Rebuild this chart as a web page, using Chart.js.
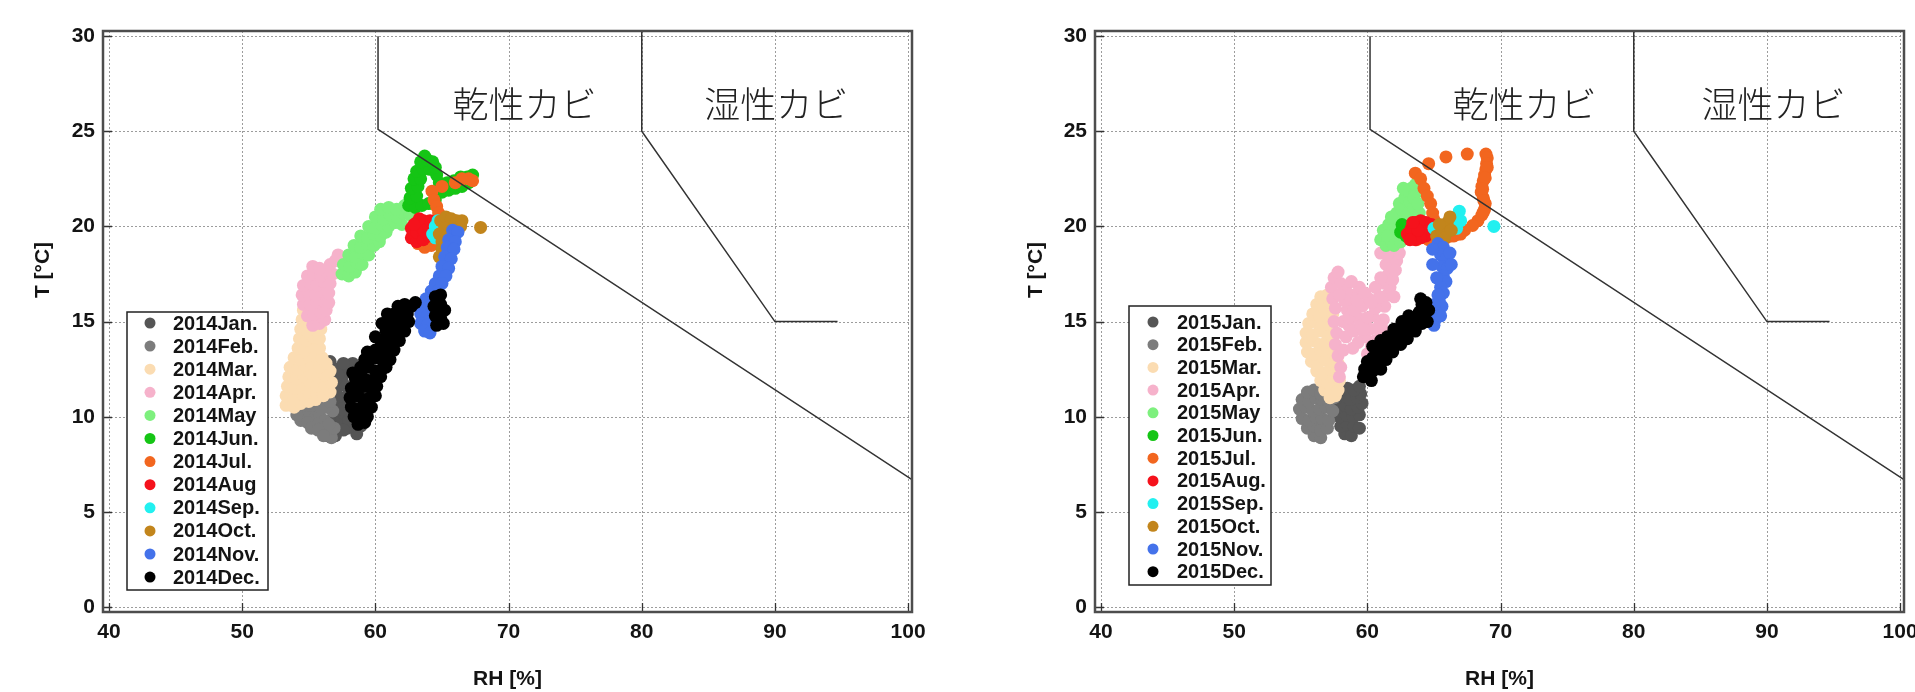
<!DOCTYPE html>
<html>
<head>
<meta charset="utf-8">
<script src="https://cdn.jsdelivr.net/npm/chart.js@4.4.1/dist/chart.umd.min.js"></script>
<style>
  html, body { margin: 0; padding: 0; background: #fff; overflow: hidden; }
  #wrap { position: relative; width: 1915px; height: 692px; overflow: hidden; background: #fff; }
  canvas { position: absolute; top: 0; }
  #c2014 { left: 0; }
  #c2015 { left: 992px; }
</style>
</head>
<body>
<div id="wrap">
  <canvas id="c2014" width="960" height="692"></canvas>
  <canvas id="c2015" width="960" height="692"></canvas>
</div>
<script>
// ---- axes ----
const xTicks = [40, 50, 60, 70, 80, 90, 100];
const yTicks = [0, 5, 10, 15, 20, 25, 30];
const xTitle = 'RH [%]';
const yTitle = 'T [°C]';

// ---- mould zones ----
const zoneLabels = ['乾性カビ', '湿性カビ'];
const zoneX2014 = [71.2, 90.1];
const zoneX2015 = [71.8, 90.5];
const zoneY = 26.4;
const dryBoundary = [[60.2, 30], [60.2, 25.1], [100.5, 6.6]];
const wetBoundary = [[80, 30.5], [80, 25], [90, 15], [94.7, 15]];

// ---- legend labels ----
const legend2014 = ['2014Jan.', '2014Feb.', '2014Mar.', '2014Apr.', '2014May', '2014Jun.',
                    '2014Jul.', '2014Aug', '2014Sep.', '2014Oct.', '2014Nov.', '2014Dec.'];
const legend2015 = ['2015Jan.', '2015Feb.', '2015Mar.', '2015Apr.', '2015May', '2015Jun.',
                    '2015Jul.', '2015Aug.', '2015Sep.', '2015Oct.', '2015Nov.', '2015Dec.'];
const monthColors = ['#555555', '#7c7c7c', '#fbdcb2', '#f6b2cb', '#7ef07e', '#15c515',
                     '#f2661f', '#f5121c', '#22f0f0', '#c2851c', '#4472ea', '#000000'];

// ---- 2014 readings [RH %, T °C] ----
const jan2014 = [[56.6,12.9],[56.9,12.4],[56.7,11.9],[57.1,11.5],[56.8,11.0],[57.2,10.6],[56.9,10.1],[57.3,9.7],
  [56.8,9.3],[56.4,9.0],[57.0,9.0],[57.6,10.2],[57.8,11.0],[57.5,12.0],[58.0,12.4],[58.3,12.8],[58.6,12.3],
  [58.4,11.6],[58.2,10.8],[58.5,10.2],[58.3,9.6],[58.6,9.1],[58.9,9.5],[59.0,10.3],[59.2,11.2],[59.1,12.0],
  [58.8,12.6],[57.9,9.4],[57.4,12.6],[57.6,12.8],[57.2,12.2],[57.8,11.6],[57.4,11.0],[57.9,10.6],[57.5,10.4],
  [58.0,9.8],[57.6,9.3],[56.6,9.7],[56.5,10.5],[56.4,11.4],[56.6,12.3]];
const feb2014 = [[54.2,10.4],[54.6,10.0],[55.0,10.2],[55.4,9.9],[55.8,10.1],[56.2,9.8],[55.6,9.6],[56.0,9.4],
  [56.4,9.1],[56.7,8.9],[56.9,9.4],[56.5,9.6],[56.8,10.3],[55.2,10.6],[54.8,10.6],[56.3,10.5],[54.4,9.8],
  [54.9,9.7],[55.2,9.4],[55.7,9.3],[56.1,9.0],[55.9,10.5],[56.6,10.8],[54.1,10.1]];
const mar2014 = [[53.3,10.6],[53.9,10.5],[54.4,10.7],[55.0,10.8],[55.5,10.9],
  [53.3,11.1],[53.9,11.0],[54.5,11.2],[55.0,11.3],[55.6,11.2],[56.1,11.1],[56.6,11.3],
  [53.4,11.6],[54.0,11.5],[54.5,11.7],[55.1,11.8],[55.6,11.6],[56.2,11.7],[56.7,11.8],
  [53.5,12.1],[54.1,12.0],[54.6,12.2],[55.1,12.3],[55.7,12.1],[56.2,12.2],[56.6,12.4],
  [53.6,12.6],[54.2,12.5],[54.7,12.7],[55.2,12.8],[55.8,12.6],[56.3,12.8],
  [53.9,13.1],[54.4,13.0],[55.0,13.2],[55.5,13.3],[56.0,13.1],
  [54.2,13.6],[54.7,13.5],[55.2,13.7],[55.8,13.6],
  [54.3,14.1],[54.8,14.0],[55.3,14.2],[55.8,14.1],
  [54.4,14.6],[54.9,14.5],[55.4,14.7],[55.9,14.6],
  [54.5,15.1],[55.0,15.0],[55.5,15.2],
  [54.6,15.6],[55.1,15.5],[55.6,15.7]];
const apr2014 = [[55.3,14.8],[55.8,14.9],[56.2,15.1],
  [54.9,15.3],[55.4,15.4],[55.9,15.5],[56.3,15.6],
  [54.6,15.9],[55.1,15.9],[55.6,16.0],[56.1,16.1],[56.5,16.0],
  [54.5,16.4],[55.0,16.5],[55.5,16.4],[56.0,16.6],[56.5,16.5],
  [54.6,16.9],[55.1,17.0],[55.6,16.9],[56.1,17.1],[56.6,17.0],
  [54.9,17.4],[55.4,17.5],[55.9,17.4],[56.4,17.6],[56.8,17.5],
  [55.3,17.9],[55.8,17.8],[56.6,18.0],[57.0,18.2],[57.2,18.5]];
const may2014 = [[57.5,17.5],[58.0,17.4],[58.5,17.6],
  [57.6,18.0],[58.1,17.9],[58.6,18.1],[59.0,18.0],
  [58.0,18.5],[58.5,18.4],[59.0,18.6],[59.5,18.5],
  [58.4,19.0],[58.9,18.9],[59.4,19.1],[59.9,19.0],[60.3,19.2],
  [58.9,19.5],[59.4,19.4],[59.9,19.6],[60.4,19.5],[60.8,19.7],
  [59.5,20.0],[60.0,19.9],[60.5,20.1],[61.0,20.0],[61.5,20.2],[62.0,20.1],
  [60.0,20.5],[60.6,20.4],[61.1,20.6],[61.6,20.5],[62.1,20.7],[62.6,20.6],
  [60.4,20.9],[61.0,21.0],[61.6,20.9],[62.2,21.1],[62.8,21.0],[63.2,21.2]];
const jun2014 = [[62.5,21.1],[63.0,21.0],[63.5,21.1],[64.0,21.2],[64.5,21.4],
  [62.6,21.5],[63.1,21.6],[64.6,21.8],[65.0,21.8],
  [62.7,22.0],[63.2,22.1],[64.8,22.3],[64.9,21.9],
  [62.9,22.5],[63.4,22.5],[64.6,22.7],
  [63.1,22.9],[63.6,23.0],[64.1,23.0],[64.5,23.1],
  [63.4,23.4],[63.9,23.5],[64.3,23.4],[63.7,23.7],
  [65.5,21.9],[66.0,22.0],[66.5,22.1],[67.0,22.3],
  [65.4,22.3],[65.9,22.4],[66.4,22.6],[66.9,22.6],[67.3,22.7]];
const jul2014 = [[64.25,21.85],[65.0,22.1],[66.0,22.3],[67.0,22.5],[67.3,22.4],[66.5,22.5],[64.4,21.4],
  [64.6,21.05],[64.75,20.7],[64.6,20.35],[63.2,19.1],[63.7,18.9],[64.2,19.0],[64.5,19.3],[63.0,19.4]];
const aug2014 = [[62.7,19.4],[62.7,19.9],[63.1,19.2],[63.1,19.7],[63.1,20.2],[63.6,19.3],[63.6,19.8],[63.6,20.3],
  [64.0,19.5],[64.0,20.0],[64.1,20.3],[63.3,20.4],[62.9,20.1]];
const sep2014 = [[64.3,19.6],[64.5,20.0],[64.7,20.3],[64.8,19.8],[64.5,19.4],[64.9,20.1]];
const oct2014 = [[64.9,20.3],[65.3,20.5],[65.7,20.4],[66.1,20.3],[66.4,20.0],[66.1,19.7],[65.7,19.9],[65.2,19.9],
  [64.8,19.6],[65.0,19.2],[65.0,18.8],[64.8,18.4],[65.1,18.6],[67.9,19.95],[65.4,19.5],[66.5,20.3]];
const nov2014 = [[65.8,19.8],[66.2,19.7],[65.5,19.3],[66.0,19.2],[65.4,18.9],[65.9,18.8],[65.2,18.4],[65.7,18.3],
  [65.0,17.9],[65.5,17.8],[64.8,17.4],[65.3,17.4],[64.5,17.0],[65.0,17.0],[64.2,16.6],[64.7,16.6],[63.8,16.2],
  [64.4,16.2],[63.5,15.8],[64.1,15.8],[63.4,15.4],[63.9,15.3],[63.4,14.9],[63.9,14.8],[63.7,14.5],[64.1,14.4]];
const dec2014 = [[58.7,9.6],[59.2,9.7],
  [58.4,10.0],[58.9,10.1],[59.4,10.0],
  [58.2,10.5],[58.7,10.4],[59.2,10.6],[59.7,10.5],
  [58.1,11.0],[58.6,11.1],[59.1,10.9],[59.6,11.0],[60.0,11.1],
  [58.2,11.5],[58.7,11.4],[59.2,11.6],[59.7,11.5],[60.1,11.6],
  [58.5,12.0],[59.0,12.1],[59.5,11.9],[60.0,12.0],[60.4,12.1],
  [59.0,12.5],[59.5,12.6],[60.0,12.4],[60.5,12.5],[60.8,12.6],
  [59.6,13.0],[60.1,13.1],[60.6,12.9],[61.1,13.0],
  [60.0,13.5],[60.5,13.4],[61.0,13.6],[61.4,13.5],
  [60.4,14.0],[60.9,14.1],[61.4,13.9],[61.8,14.0],
  [60.8,14.5],[61.3,14.4],[61.8,14.6],[62.2,14.5],
  [61.1,15.0],[61.6,14.9],[62.1,15.1],[62.5,15.0],
  [61.4,15.4],[61.9,15.5],[62.4,15.4],
  [61.7,15.8],[62.2,15.9],[62.7,15.8],[63.0,16.0],
  [60.0,14.2],[59.2,13.0],[58.9,12.6],[60.5,14.9],[60.9,15.4],[58.3,12.3],[59.4,13.4],
  [64.5,16.3],[64.9,16.4],[64.4,15.8],[64.9,15.9],[65.2,15.6],[64.5,15.3],[64.9,15.2],[64.6,14.8],[65.1,14.9]];

// ---- 2015 readings [RH %, T °C] ----
const jan2015 = [[58.3,9.1],[58.8,9.0],
  [58.0,9.5],[58.5,9.6],[59.0,9.5],[59.4,9.4],
  [57.9,10.0],[58.4,10.1],[58.9,10.0],[59.4,10.1],
  [57.8,10.5],[58.3,10.6],[58.8,10.4],[59.3,10.5],[59.6,10.7],
  [57.7,11.0],[58.2,11.1],[58.7,10.9],[59.2,11.0],[59.5,11.2],
  [58.0,11.4],[58.5,11.5],[59.0,11.4],[59.4,11.6]];
const feb2015 = [[56.0,9.0],[56.5,8.9],
  [55.5,9.4],[56.0,9.5],[56.5,9.3],[57.0,9.4],
  [55.1,9.9],[55.6,9.8],[56.1,10.0],[56.6,9.9],[57.1,9.8],
  [54.9,10.4],[55.4,10.5],[55.9,10.3],[56.4,10.4],[56.9,10.5],[57.4,10.3],
  [55.1,10.9],[55.6,10.8],[56.1,11.0],[56.6,10.9],[57.1,10.8],[57.5,11.0],
  [55.5,11.3],[56.0,11.4],[56.5,11.2],[57.0,11.4]];
const mar2015 = [[57.2,11.0],[57.6,11.1],
  [56.8,11.4],[57.3,11.5],[57.8,11.4],
  [56.5,11.9],[57.0,11.8],[57.5,12.0],[57.9,11.9],
  [56.2,12.4],[56.7,12.3],[57.2,12.5],[57.7,12.4],
  [55.8,12.9],[56.3,12.8],[56.8,13.0],[57.3,12.9],[57.8,12.8],
  [55.5,13.4],[56.0,13.3],[56.5,13.5],[57.0,13.4],[57.5,13.3],
  [55.4,13.9],[55.9,14.0],[56.4,13.8],[56.9,13.9],[57.4,14.0],
  [55.4,14.4],[55.9,14.3],[56.4,14.5],[56.9,14.4],[57.3,14.3],
  [55.6,14.9],[56.1,15.0],[56.6,14.8],[57.1,14.9],
  [55.9,15.4],[56.4,15.3],[56.9,15.5],[57.4,15.4],
  [56.2,15.9],[56.7,15.8],[57.2,16.0],
  [56.5,16.3],[57.0,16.4]];
const apr2015 = [[57.3,16.8],[57.5,17.3],[57.4,16.2],[57.6,15.7],[57.5,15.0],[57.7,14.4],[57.6,13.8],[57.8,13.2],
  [58.0,12.6],[58.2,13.5],[58.4,14.2],[58.2,15.0],[58.5,15.6],[58.8,16.2],[58.6,14.8],[59.0,14.5],[59.3,15.2],
  [59.6,15.8],[59.5,14.8],[59.8,14.2],[60.2,14.6],[60.4,15.3],[60.6,14.0],[60.8,13.6],[61.0,14.4],[61.2,15.1],
  [61.3,15.8],[61.5,16.4],[61.3,17.0],[61.6,17.5],[61.4,18.0],[61.8,18.4],[62.0,18.9],[62.3,19.0],[61.9,17.8],
  [61.7,16.8],[59.0,16.4],[59.4,16.8],[60.1,16.2],[58.0,17.0],[58.4,16.6],[60.6,15.7],[60.9,16.3],[61.9,17.2],
  [62.2,18.2],[62.4,18.6],[61.0,18.6],[58.9,13.6],[59.3,13.9],[60.0,13.3],[60.3,13.7],[57.9,12.1],
  [58.6,15.2],[59.0,15.6],[59.2,16.1],[59.8,16.5],[60.3,16.0],[60.0,15.2],[59.7,14.6],[60.9,14.8],[61.3,14.5],
  [58.3,16.1],[57.9,16.4],[60.6,16.8],[61.0,17.3],[62.0,16.3],[62.1,17.7],[61.5,18.5],[58.8,17.1],[57.8,17.6]];
const may2015 = [[61.0,19.3],[61.4,19.0],[61.8,19.2],[62.2,19.5],[61.2,19.8],[61.6,20.1],[62.0,19.9],[62.4,20.3],
  [62.2,20.7],[62.6,20.9],[63.0,20.6],[62.4,21.2],[62.8,21.5],[63.2,21.3],[63.5,21.0],[62.9,21.9],[63.3,22.0],
  [63.7,21.8],[63.6,22.2],[63.9,20.7],[62.6,19.6],[63.5,21.5],[63.8,21.2],[62.7,22.0],[61.5,19.5],[62.0,19.0],
  [62.5,19.2],[63.3,20.3],[63.7,20.4],[61.8,20.5]];
const jun2015 = [[62.5,19.7],[62.8,20.0],[63.1,19.8],[62.9,19.5],[62.6,20.1]];
const jul2015 = [[63.6,22.8],[64.0,22.5],[64.25,22.0],[64.5,21.6],[64.75,21.2],[64.9,20.7],[65.0,20.35],
  [64.6,23.3],[65.9,23.65],[67.5,23.8],[68.9,23.8],[69.0,23.6],[68.95,23.3],[68.9,23.0],[68.8,22.7],[68.7,22.4],
  [68.6,22.1],[68.55,21.8],[68.7,21.5],[68.85,21.2],[68.8,20.9],[68.6,20.6],[68.3,20.3],[67.9,20.05],[67.3,19.8],
  [66.8,19.6],[66.3,19.5],[64.4,19.4],[64.0,19.6],[65.5,19.7],[69.0,23.1],[68.85,22.55],[68.65,21.95],
  [68.75,21.35],[68.7,20.75],[63.7,19.3],[64.6,19.3],[65.1,19.4],[65.9,19.4],[66.5,19.5],[67.0,19.6]];
const aug2015 = [[63.0,19.6],[63.3,19.9],[63.6,20.2],[64.0,20.3],[64.4,20.2],[64.7,19.9],[64.4,19.5],[64.0,19.4],
  [63.6,19.3],[63.2,19.3],[63.8,19.8],[64.8,20.1],[63.4,20.2]];
const sep2015 = [[66.3,20.0],[66.6,20.4],[66.9,20.8],[67.0,20.3],[66.7,19.9],[69.5,20.0],[65.0,19.9]];
const oct2015 = [[65.2,19.5],[65.6,19.8],[66.0,20.2],[66.2,20.5],[65.8,19.4],[65.4,20.1],[66.3,19.8]];
const nov2015 = [[65.3,19.1],[65.7,18.9],[65.5,18.5],[65.9,18.3],[65.6,17.9],[66.0,17.8],[65.7,17.4],[65.9,17.1],
  [65.5,16.8],[65.7,16.5],[65.4,16.1],[65.6,15.8],[65.2,15.5],[65.1,15.1],[65.0,14.8],[64.9,18.8],[66.2,18.6],
  [64.9,18.0],[66.3,18.0],[65.2,17.3],[65.3,16.4],[65.0,15.9],[65.5,15.3]];
const dec2015 = [[59.8,12.5],[60.1,12.2],[60.4,12.4],[60.0,12.9],[60.4,13.1],[60.8,12.8],[61.0,12.5],[60.7,13.5],
  [61.1,13.3],[61.4,13.0],[61.2,13.8],[61.6,13.6],[61.9,13.4],[61.8,14.1],[62.2,13.9],[62.5,13.8],[62.3,14.4],
  [62.7,14.3],[63.0,14.1],[62.9,14.8],[63.3,14.6],[63.6,14.5],[63.4,15.1],[63.8,15.0],[64.1,14.9],[63.9,15.5],
  [64.3,15.4],[64.1,15.9],[64.4,16.0],[64.5,15.0],[59.7,12.1],[60.3,11.9],[64.0,16.2],[64.6,15.6],[61.5,14.2],
  [62.0,14.6],[62.6,15.0],[63.1,15.3],[60.4,13.7],[61.0,14.0]];

const series2014 = [jan2014, feb2014, mar2014, apr2014, may2014, jun2014, jul2014, aug2014, sep2014, oct2014, nov2014, dec2014];
const series2015 = [jan2015, feb2015, mar2015, apr2015, may2015, jun2015, jul2015, aug2015, sep2015, oct2015, nov2015, dec2015];

const FONT = "'Liberation Sans', Arial, Helvetica, sans-serif";
const INK = '#141414';

// dotted grid under the data; frame, inner ticks, zone names, legend and y title on top
const decorPlugin = {
  id: 'decor',
  beforeDatasetsDraw(chart) {
    const { ctx, chartArea: a, scales: { x, y } } = chart;
    ctx.save();
    ctx.strokeStyle = '#9c9c9c';
    ctx.lineWidth = 1;
    ctx.setLineDash([2, 2]);
    ctx.beginPath();
    xTicks.forEach(v => { const p = Math.round(x.getPixelForValue(v)) + 0.5; ctx.moveTo(p, a.top); ctx.lineTo(p, a.bottom); });
    yTicks.forEach(v => { const p = Math.round(y.getPixelForValue(v)) + 0.5; ctx.moveTo(a.left, p); ctx.lineTo(a.right, p); });
    ctx.stroke();
    ctx.restore();
  },
  afterDatasetsDraw(chart, args, o) {
    const { ctx, chartArea: a, scales: { x, y } } = chart;
    ctx.save();
    // zone names
    ctx.fillStyle = '#222';
    ctx.font = "300 36px 'Noto Sans CJK JP', sans-serif";
    ctx.textAlign = 'center';
    ctx.textBaseline = 'middle';
    zoneLabels.forEach((t, i) => ctx.fillText(t, x.getPixelForValue(o.zoneX[i]), y.getPixelForValue(zoneY)));
    // inner tick marks
    ctx.strokeStyle = '#333';
    ctx.lineWidth = 1.3;
    ctx.beginPath();
    xTicks.forEach(v => { const p = Math.round(x.getPixelForValue(v)) + 0.5; ctx.moveTo(p, a.bottom); ctx.lineTo(p, a.bottom - 9); });
    yTicks.forEach(v => { const p = Math.round(y.getPixelForValue(v)) + 0.5; ctx.moveTo(a.left, p); ctx.lineTo(a.left + 9, p); });
    ctx.stroke();
    // frame
    ctx.strokeStyle = '#4d4d4d';
    ctx.lineWidth = 2.5;
    ctx.strokeRect(a.left, a.top, a.right - a.left, a.bottom - a.top);
    // legend box
    const [bx, by, bw, bh] = [a.left + o.box[0], a.top + o.box[1], o.box[2], o.box[3]];
    ctx.fillStyle = '#fff';
    ctx.fillRect(bx, by, bw, bh);
    ctx.strokeStyle = '#222';
    ctx.lineWidth = 1.5;
    ctx.strokeRect(bx, by, bw, bh);
    ctx.font = 'bold 20px ' + FONT;
    ctx.textAlign = 'left';
    ctx.textBaseline = 'middle';
    chart.data.datasets.forEach((ds, i) => {
      if (ds.boundary) return;
      const cy = by + o.rowTop + i * o.rowGap;
      ctx.fillStyle = ds.backgroundColor;
      ctx.beginPath();
      ctx.arc(bx + o.markerDx, cy, 5.5, 0, Math.PI * 2);
      ctx.fill();
      ctx.fillStyle = INK;
      ctx.fillText(ds.label, bx + o.textDx, cy + 1);
    });
    // y axis title
    ctx.translate(o.yTitle[0], o.yTitle[1]);
    ctx.rotate(-Math.PI / 2);
    ctx.textAlign = 'center';
    ctx.font = 'bold 21px ' + FONT;
    ctx.fillStyle = INK;
    ctx.fillText(yTitle, 0, 0);
    ctx.restore();
  }
};

function makeChart(id, series, labels, decor) {
  const datasets = series.map((pts, i) => ({
    label: labels[i],
    data: pts,
    backgroundColor: monthColors[i],
    borderWidth: 0,
    pointRadius: 6.5,
    pointHoverRadius: 6.5,
    order: 12 - i
  }));
  [dryBoundary, wetBoundary].forEach(line => datasets.push({
    label: '',
    boundary: true,
    data: line,
    showLine: true,
    fill: false,
    borderColor: '#333',
    borderWidth: 1.5,
    pointRadius: 0,
    order: -1
  }));
  const tickFont = { family: FONT, weight: 'bold', size: 21 };
  return new Chart(document.getElementById(id), {
    type: 'scatter',
    data: { datasets },
    plugins: [decorPlugin],
    options: {
      responsive: false,
      animation: false,
      layout: { padding: { left: 0, right: 48, top: 31, bottom: 0 } },
      plugins: { legend: { display: false }, tooltip: { enabled: false }, decor },
      scales: {
        x: {
          type: 'linear', min: 39.55, max: 100.29,
          afterBuildTicks: s => { s.ticks = xTicks.map(v => ({ value: v })); },
          afterFit: s => { s.height = 80; },
          grid: { display: false, drawTicks: false },
          border: { display: false },
          ticks: { padding: 8, color: INK, font: tickFont, maxRotation: 0, autoSkip: false },
          title: { display: true, text: xTitle, color: INK, font: tickFont, padding: { top: 0, bottom: 0 } }
        },
        y: {
          type: 'linear', min: -0.263, max: 30.27,
          afterBuildTicks: s => { s.ticks = yTicks.map(v => ({ value: v })); },
          afterFit: s => { s.width = 103; },
          grid: { display: false, drawTicks: false },
          border: { display: false },
          ticks: { padding: 8, color: INK, font: tickFont, autoSkip: false }
        }
      }
    }
  });
}

makeChart('c2014', series2014, legend2014,
  { zoneX: zoneX2014, box: [24, 281, 141, 278], rowTop: 11, rowGap: 23.1, markerDx: 23, textDx: 46, yTitle: [43, 270] });
makeChart('c2015', series2015, legend2015,
  { zoneX: zoneX2015, box: [34, 275, 142, 279], rowTop: 16, rowGap: 22.7, markerDx: 24, textDx: 48, yTitle: [44, 270] });
</script>
</body>
</html>
